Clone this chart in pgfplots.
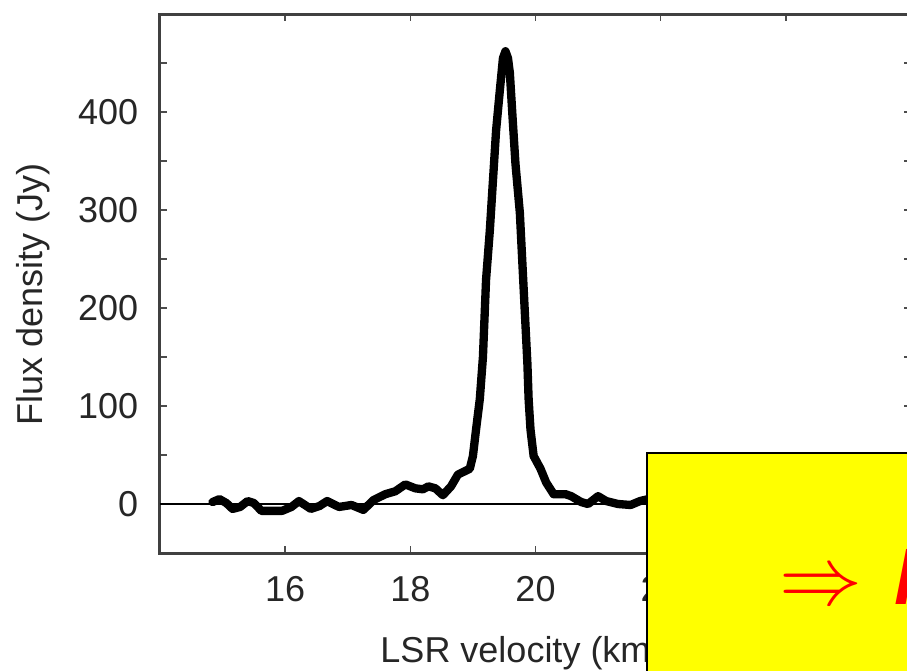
\documentclass[border=0pt]{standalone}
\usepackage{pgfplots}
\pgfplotsset{compat=1.18}
\usepackage{fontspec}
\setmainfont{Liberation Sans}
\definecolor{boxyellow}{RGB}{255,255,0}
\definecolor{arrowred}{RGB}{255,0,0}
\begin{document}
\begin{tikzpicture}[x=1pt,y=1pt]
\path[use as bounding box] (0,0) rectangle (272.1,201);
\clip (0,0) rectangle (272.1,201);
\begin{axis}[at={(48pt,35.1pt)}, anchor=south west, scale only axis,
  width=225.3pt, height=161.7pt,
  xmin=14, xmax=26, ymin=-50, ymax=500,
  xtick={16,18,20,22,24}, ytick={0,100,200,300,400},
  minor ytick={50,150,250,350,450},
  tick align=inside, major tick length=2.1pt, minor tick length=2.1pt,
  tick style={line width=0.45pt, black!70},
  axis line style={line width=0.9pt, black!75},
  ticklabel style={font=\fontsize{10.8}{13}\selectfont, text=black!85},
  /pgf/number format/assume math mode=true,
  xticklabel shift=3.5pt, yticklabel shift=3pt,
  xlabel={LSR velocity (km/s)}, ylabel={Flux density (Jy)},
  label style={font=\fontsize{10.8}{13}\selectfont, text=black!85},
  xlabel style={at={(axis description cs:0.5,0)}, anchor=base, yshift=-32.7pt},
  ylabel style={at={(axis description cs:-0.1571,0.48)}, anchor=base},
]
\addplot[black, line width=0.5pt, forget plot] coordinates {(14,0) (26,0)};
\addplot[black, line width=2.5pt, line join=round, line cap=round] coordinates {
(14.84,2) (14.95,5) (15.06,1) (15.16,-5) (15.28,-3) (15.40,3) (15.50,1)
(15.62,-7) (15.80,-7) (15.95,-7) (16.10,-3) (16.22,3) (16.41,-5) (16.55,-2)
(16.67,3) (16.86,-3) (17.06,-1) (17.25,-6) (17.41,4) (17.60,10) (17.76,13)
(17.92,20) (18.08,16) (18.20,15) (18.29,18) (18.40,16) (18.52,9) (18.65,18)
(18.76,30) (18.95,36) (19.00,49) (19.05,76) (19.11,107) (19.16,150)
(19.21,229) (19.27,279) (19.32,330) (19.37,381) (19.43,422) (19.48,455)
(19.52,462) (19.56,455) (19.59,440) (19.63,398) (19.68,347) (19.75,297)
(19.79,246) (19.83,195) (19.87,144) (19.89,107) (19.92,76) (19.97,49)
(20.08,36) (20.17,22) (20.29,10) (20.48,10) (20.57,8) (20.73,2) (20.84,0)
(21.00,8) (21.13,3) (21.32,0) (21.52,-1) (21.67,3) (21.80,5)
};
\end{axis}
\fill[boxyellow] (194.1,-2) rectangle (280,65.1);
\draw[black, line width=0.5pt] (194.1,-2) -- (194.1,65.1) -- (280,65.1);
\node[text=arrowred, anchor=base, inner sep=0pt, font=\fontsize{24}{28}\selectfont] at (246.3,19.8) {$\Rightarrow$};
\node[text=arrowred, anchor=base west, inner sep=0pt, font=\fontsize{24}{28}\selectfont\bfseries\itshape] at (268,19.8) {M};
\end{tikzpicture}
\end{document}
